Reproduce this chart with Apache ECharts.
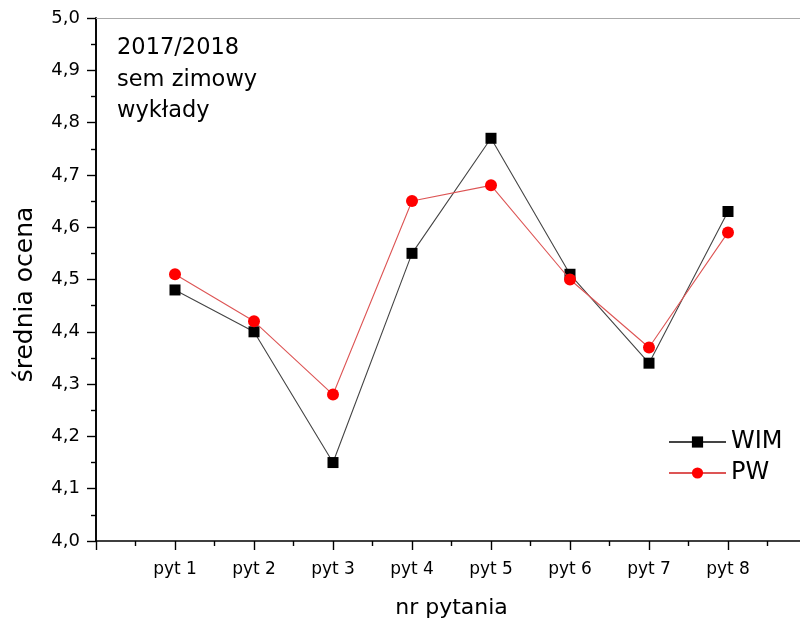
<!DOCTYPE html>
<html>
<head>
<meta charset="utf-8">
<script src="https://cdn.jsdelivr.net/npm/echarts@6/dist/echarts.min.js"></script>
<style>html,body{margin:0;padding:0;background:#fff}#c{width:800px;height:626px}</style>
</head>
<body>
<div id="c"></div>
<script>
const categories = ['pyt 1','pyt 2','pyt 3','pyt 4','pyt 5','pyt 6','pyt 7','pyt 8'];
const wim = [4.48, 4.40, 4.15, 4.55, 4.77, 4.51, 4.34, 4.63];
const pw  = [4.51, 4.42, 4.28, 4.65, 4.68, 4.50, 4.37, 4.59];
const annotation = ['2017/2018', 'sem zimowy', 'wykłady'];

const FONT = 'DejaVu Sans, sans-serif';
const toPairs = arr => arr.map((v, i) => [i + 1, v]);

const chart = echarts.init(document.getElementById('c'), null, {renderer: 'canvas'});
chart.setOption({
  animation: false,
  backgroundColor: '#fff',
  textStyle: {fontFamily: FONT},
  grid: {left: 96, top: 18, right: -7, bottom: 85, containLabel: false, outerBoundsMode: 'none'},
  legend: {
    left: 663, top: 425, orient: 'vertical',
    itemWidth: 57, itemHeight: 14, itemGap: 7,
    textStyle: {fontSize: 24, color: '#000', fontFamily: FONT},
    data: ['WIM', 'PW']
  },
  xAxis: [{
    type: 'value', min: 0, max: 9, interval: 1,
    name: 'nr pytania', nameLocation: 'middle', nameGap: 56,
    nameTextStyle: {fontSize: 22, color: '#000', fontFamily: FONT},
    axisLine: {lineStyle: {color: '#000', width: 1.6}},
    axisTick: {inside: false, length: 9, lineStyle: {color: '#000', width: 1.4}},
    minorTick: {show: true, splitNumber: 2, length: 5, lineStyle: {color: '#000', width: 1.4}},
    splitLine: {show: false},
    axisLabel: {
      fontSize: 17, color: '#000', margin: 20, fontFamily: FONT,
      formatter: v => (v >= 1 && v <= categories.length) ? categories[v - 1] : ''
    }
  }, {
    type: 'value', min: 0, max: 9, position: 'top',
    axisLine: {show: true, lineStyle: {color: '#aaa', width: 1.2}},
    axisTick: {show: false}, axisLabel: {show: false}, splitLine: {show: false}
  }],
  yAxis: [{
    type: 'value', min: 4, max: 5, interval: 0.1,
    name: 'średnia ocena', nameLocation: 'middle', nameGap: 58,
    nameTextStyle: {fontSize: 25, color: '#000', fontFamily: FONT, padding: [0, 30, 0, 0]},
    axisLine: {show: true, lineStyle: {color: '#000', width: 1.6}},
    axisTick: {inside: false, length: 9, lineStyle: {color: '#000', width: 1.4}},
    minorTick: {show: true, splitNumber: 2, length: 5, lineStyle: {color: '#000', width: 1.4}},
    splitLine: {show: false},
    axisLabel: {
      fontSize: 18, color: '#000', margin: 16, fontFamily: FONT,
      formatter: v => v.toFixed(1).replace('.', ',')
    }
  }, {
    type: 'value', min: 4, max: 5, position: 'right',
    axisLine: {show: true, lineStyle: {color: '#000', width: 1.6}},
    axisTick: {show: false}, axisLabel: {show: false}, splitLine: {show: false}
  }],
  graphic: annotation.map((t, i) => ({
    type: 'text', left: 117, top: 37 + i * 31.5,
    style: {text: t, fontSize: 22.5, fill: '#000', fontFamily: FONT}
  })),
  series: [{
    name: 'WIM', type: 'line', data: toPairs(wim),
    symbol: 'rect', symbolSize: 11,
    itemStyle: {color: '#000'},
    lineStyle: {color: '#444', width: 1.1},
    z: 3
  }, {
    name: 'PW', type: 'line', data: toPairs(pw),
    symbol: 'circle', symbolSize: 12,
    itemStyle: {color: '#f00'},
    lineStyle: {color: '#d55', width: 1.1},
    z: 4
  }]
});
</script>
</body>
</html>
